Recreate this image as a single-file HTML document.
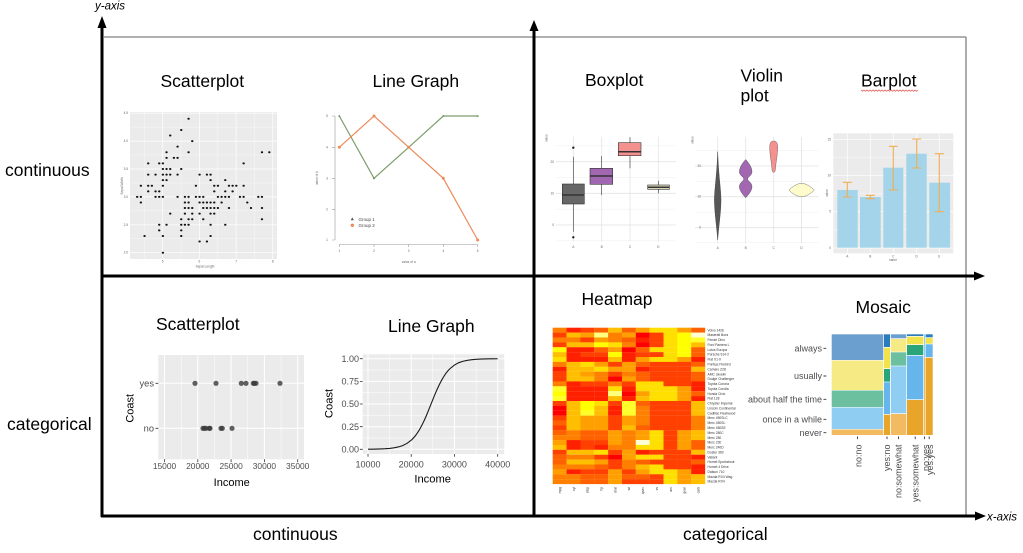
<!DOCTYPE html>
<html><head><meta charset="utf-8"><style>
html,body{margin:0;padding:0;background:#fff;}
svg{display:block;font-family:"Liberation Sans",sans-serif;}
.k0{fill:#ff0000}.k1{fill:#ff2000}.k2{fill:#ff4000}.k3{fill:#ff6000}.k4{fill:#ff8000}.k5{fill:#ff9f00}.k6{fill:#ffbf00}.k7{fill:#ffdf00}.k8{fill:#ffff00}.k9{fill:#ffff2a}.k10{fill:#ffff80}.k11{fill:#ffffd5}
.t{font-size:17.5px;fill:#000}
.tiny{font-size:3.2px;fill:#666}
.rl{font-size:3.3px;fill:#333}
.gt{fill:#4d4d4d}
</style></head><body>
<svg width="1023" height="553" viewBox="0 0 1023 553">
<defs><rect id="h" width="13.95" height="4.97"/></defs>
<rect width="1023" height="553" fill="#fff"/>

<!-- frame -->
<line x1="104" y1="37" x2="966" y2="37" stroke="#808080" stroke-width="1.3"/>
<line x1="966" y1="37" x2="966" y2="516" stroke="#808080" stroke-width="1.3"/>
<g stroke="#000" stroke-width="3">
<line x1="102" y1="517" x2="102" y2="27"/>
<line x1="534" y1="517" x2="534" y2="30"/>
<line x1="101" y1="276" x2="976" y2="276"/>
<line x1="101" y1="516" x2="977" y2="516"/>
</g>
<polygon points="102,16 97.5,28 106.5,28" fill="#000"/>
<polygon points="534,20 529.5,31 538.5,31" fill="#000"/>
<polygon points="985,276 974,271.5 974,280.5" fill="#000"/>
<polygon points="986,516 975,511.5 975,520.5" fill="#000"/>
<text x="95" y="9.5" font-size="11.5" font-style="italic" fill="#000">y-axis</text>
<text x="987" y="520.5" font-size="11.5" font-style="italic" fill="#000">x-axis</text>

<text class="t" x="5" y="176">continuous</text>
<text class="t" x="7" y="430">categorical</text>
<text class="t" x="253" y="540">continuous</text>
<text class="t" x="683" y="540">categorical</text>

<!-- titles -->
<text class="t" x="160.5" y="87">Scatterplot</text>
<text class="t" x="372.5" y="87">Line Graph</text>
<text class="t" x="585" y="86">Boxplot</text>
<text class="t" x="740.5" y="81.3">Violin</text>
<text class="t" x="740.5" y="101.5">plot</text>
<text class="t" x="861" y="86.5">Barplot</text>
<polyline points="861,90 862.5,91.3 864,90 865.5,91.3 867,90 868.5,91.3 870,90 871.5,91.3 873,90 874.5,91.3 876,90 877.5,91.3 879,90 880.5,91.3 882,90 883.5,91.3 885,90 886.5,91.3 888,90 889.5,91.3 891,90 892.5,91.3 894,90 895.5,91.3 897,90 898.5,91.3 900,90 901.5,91.3 903,90 904.5,91.3 906,90 907.5,91.3 909,90 910.5,91.3 912,90 913.5,91.3 915,90 916.5,91.3 918,90" fill="none" stroke="#e05050" stroke-width="0.7"/>
<text class="t" x="581.5" y="305">Heatmap</text>
<text class="t" x="855.5" y="313">Mosaic</text>
<text class="t" x="156" y="330">Scatterplot</text>
<text class="t" x="388" y="332">Line Graph</text>

<!-- top scatterplot (iris) -->
<rect x="130" y="112" width="147" height="147" fill="#ebebeb"/>
<g stroke="#fff" stroke-width="0.3">
<line x1="144.4" y1="112" x2="144.4" y2="259"/><line x1="181" y1="112" x2="181" y2="259"/><line x1="217.8" y1="112" x2="217.8" y2="259"/><line x1="254.5" y1="112" x2="254.5" y2="259"/>
<line x1="130" y1="238.7" x2="277" y2="238.7"/><line x1="130" y1="210.8" x2="277" y2="210.8"/><line x1="130" y1="183" x2="277" y2="183"/><line x1="130" y1="155" x2="277" y2="155"/><line x1="130" y1="127.2" x2="277" y2="127.2"/>
</g>
<g stroke="#fff" stroke-width="0.7">
<line x1="162.7" y1="112" x2="162.7" y2="259"/><line x1="199.4" y1="112" x2="199.4" y2="259"/><line x1="236.1" y1="112" x2="236.1" y2="259"/><line x1="272.8" y1="112" x2="272.8" y2="259"/>
<line x1="130" y1="252.7" x2="277" y2="252.7"/><line x1="130" y1="224.8" x2="277" y2="224.8"/><line x1="130" y1="196.9" x2="277" y2="196.9"/><line x1="130" y1="169" x2="277" y2="169"/><line x1="130" y1="141.1" x2="277" y2="141.1"/><line x1="130" y1="113.2" x2="277" y2="113.2"/>
</g>
<g transform="matrix(36.7,0,0,-55.8,-20.8,364.3)">
<path fill="none" stroke="#111" stroke-width="2" stroke-linecap="round" vector-effect="non-scaling-stroke" d="M5.1 3.5h.01M4.9 3h.01M4.7 3.2h.01M4.6 3.1h.01M5 3.6h.01M5.4 3.9h.01M4.6 3.4h.01M5 3.4h.01M4.4 2.9h.01M4.9 3.1h.01M5.4 3.7h.01M4.8 3.4h.01M4.8 3h.01M4.3 3h.01M5.8 4h.01M5.7 4.4h.01M5.7 3.8h.01M5.1 3.8h.01M5.4 3.4h.01M5.1 3.7h.01M4.6 3.6h.01M5.1 3.3h.01M5 3h.01M5.2 3.5h.01M5.2 3.4h.01M4.8 3.1h.01M5.2 4.1h.01M5.5 4.2h.01M5 3.2h.01M5.5 3.5h.01M4.9 3.6h.01M4.4 3h.01M5.1 3.4h.01M5 3.5h.01M4.5 2.3h.01M4.4 3.2h.01M4.6 3.2h.01M5.3 3.7h.01M5 3.3h.01M7 3.2h.01M6.4 3.2h.01M6.9 3.1h.01M5.5 2.3h.01M6.5 2.8h.01M5.7 2.8h.01M6.3 3.3h.01M4.9 2.4h.01M6.6 2.9h.01M5.2 2.7h.01M5 2h.01M5.9 3h.01M6 2.2h.01M6.1 2.9h.01M5.6 2.9h.01M6.7 3.1h.01M5.6 3h.01M5.8 2.7h.01M6.2 2.2h.01M5.6 2.5h.01M5.9 3.2h.01M6.1 2.8h.01M6.3 2.5h.01M6.4 2.9h.01M6.6 3h.01M6.8 2.8h.01M6.7 3h.01M6 2.9h.01M5.7 2.6h.01M5.5 2.4h.01M6 2.7h.01M5.4 3h.01M6 3.4h.01M6.3 2.3h.01M5.5 2.5h.01M5.5 2.6h.01M6.1 3h.01M5.8 2.6h.01M5 2.3h.01M5.6 2.7h.01M5.7 3h.01M5.7 2.9h.01M6.2 2.9h.01M5.1 2.5h.01M6.3 2.9h.01M7.1 3h.01M6.5 3h.01M7.6 3h.01M4.9 2.5h.01M7.3 2.9h.01M6.7 2.5h.01M7.2 3.6h.01M6.5 3.2h.01M6.4 2.7h.01M6.8 3h.01M5.7 2.5h.01M5.8 2.8h.01M7.7 3.8h.01M7.7 2.6h.01M6.9 3.2h.01M5.6 2.8h.01M7.7 2.8h.01M6.3 2.7h.01M6.7 3.3h.01M7.2 3.2h.01M6.2 2.8h.01M6.4 2.8h.01M7.2 3h.01M7.4 2.8h.01M7.9 3.8h.01M6.3 2.8h.01M6.1 2.6h.01M7.7 3h.01M6.3 3.4h.01M6.4 3.1h.01M6 3h.01M6.9 3.1h.01M6.8 3.2h.01M6.3 2.5h.01M6.2 3.4h.01M5.9 3h.01M5.8 2.7h.01"/>
</g>
<g class="tiny" text-anchor="end"><text x="128" y="253.7">2.0</text><text x="128" y="225.8">2.5</text><text x="128" y="197.9">3.0</text><text x="128" y="170">3.5</text><text x="128" y="142.1">4.0</text><text x="128" y="114.2">4.5</text></g>
<g class="tiny" text-anchor="middle"><text x="162.7" y="262.5">5</text><text x="199.4" y="262.5">6</text><text x="236.1" y="262.5">7</text><text x="272.8" y="262.5">8</text><text x="205" y="267.5">Sepal.Length</text><text transform="translate(123,186) rotate(-90)">Sepal.Width</text></g>

<!-- top line graph -->
<g stroke="#999" stroke-width="0.6" fill="none">
<polyline points="335,116 335,240"/><polyline points="339.3,244.5 477.7,244.5"/>
<path d="M332 116h3M332 147.3h3M332 178.3h3M332 209.3h3M332 240h3M339.3 244.5v2.5M374 244.5v2.5M408.7 244.5v2.5M443.3 244.5v2.5M477.7 244.5v2.5"/>
</g>
<polyline points="339.3,116 374,178.3 408.7,147.3 443.3,116 477.7,116" fill="none" stroke="#7c9e6c" stroke-width="1.2"/>
<polyline points="339.3,147.3 374,116 408.7,147.3 443.3,178.3 477.7,240" fill="none" stroke="#ec8a5c" stroke-width="1.2"/>
<g fill="#6f8f60"><path d="M339.3 114.6l1.3 2.2h-2.6z"/><path d="M374 176.9l1.3 2.2h-2.6z"/><path d="M408.7 145.9l1.3 2.2h-2.6z"/><path d="M443.3 114.6l1.3 2.2h-2.6z"/><path d="M477.7 114.6l1.3 2.2h-2.6z"/></g>
<g fill="#ec8a5c"><circle cx="339.3" cy="147.3" r="1.5"/><circle cx="374" cy="116" r="1.5"/><circle cx="408.7" cy="147.3" r="1.5"/><circle cx="443.3" cy="178.3" r="1.5"/><circle cx="477.7" cy="240" r="1.5"/></g>
<path d="M352.3 217.4l1.6 2.8h-3.2z" fill="#555"/>
<circle cx="352.3" cy="225.3" r="1.7" fill="#ec8a5c"/>
<text x="358.5" y="221" font-size="4.5" fill="#444">Group 1</text>
<text x="358.5" y="227" font-size="4.5" fill="#444">Group 2</text>
<g class="tiny" text-anchor="middle"><text x="339.3" y="252">1</text><text x="374" y="252">2</text><text x="408.7" y="252">3</text><text x="443.3" y="252">4</text><text x="477.7" y="252">5</text><text x="408.7" y="263">value of a</text><text transform="translate(318,178) rotate(-90)">value of b</text>
<text x="327" y="117">5</text><text x="327" y="148.3">4</text><text x="327" y="179.3">3</text><text x="327" y="210.3">2</text><text x="327" y="241">1</text></g>

<!-- boxplot -->
<g stroke="#ececec" stroke-width="0.45">
<line x1="555.7" y1="145.8" x2="675.7" y2="145.8"/><line x1="555.7" y1="177.5" x2="675.7" y2="177.5"/><line x1="555.7" y1="209.2" x2="675.7" y2="209.2"/><line x1="555.7" y1="240.8" x2="675.7" y2="240.8"/>
</g>
<g stroke="#e3e3e3" stroke-width="0.8">
<line x1="555.7" y1="161.7" x2="675.7" y2="161.7"/><line x1="555.7" y1="193.3" x2="675.7" y2="193.3"/><line x1="555.7" y1="225" x2="675.7" y2="225"/>
<line x1="573.3" y1="136.7" x2="573.3" y2="241.7"/><line x1="601.7" y1="136.7" x2="601.7" y2="241.7"/><line x1="630" y1="136.7" x2="630" y2="241.7"/><line x1="658.3" y1="136.7" x2="658.3" y2="241.7"/>
</g>
<g stroke="#333" stroke-width="0.6">
<line x1="573.3" y1="156.7" x2="573.3" y2="231.7"/>
<line x1="601.7" y1="156" x2="601.7" y2="195"/>
<line x1="630" y1="137.3" x2="630" y2="168.3"/>
<line x1="658.5" y1="180.7" x2="658.5" y2="193.3"/>
<rect x="562.3" y="184" width="22" height="20" fill="#676767"/>
<rect x="590" y="168.3" width="22.7" height="16" fill="#a167b0"/>
<rect x="618.3" y="142.7" width="22.7" height="13" fill="#f4908d"/>
<rect x="647.7" y="185" width="21.7" height="4.3" fill="#dcd7b6"/>
</g>
<g stroke="#333" stroke-width="1.5">
<line x1="562.3" y1="195" x2="584.3" y2="195"/><line x1="590" y1="176" x2="612.7" y2="176"/><line x1="618.3" y1="151.7" x2="641" y2="151.7"/><line x1="647.7" y1="187.3" x2="669.4" y2="187.3"/>
</g>
<circle cx="573.3" cy="147.7" r="1.2" fill="#222"/><circle cx="573.3" cy="237.3" r="1.2" fill="#222"/>
<g class="tiny" text-anchor="end"><text x="554" y="162.8">20</text><text x="554" y="194.4">10</text><text x="554" y="226.1">0</text></g>
<g class="tiny" text-anchor="middle"><text x="573.3" y="248">A</text><text x="601.7" y="248">B</text><text x="630" y="248">C</text><text x="658.3" y="248">D</text><text transform="translate(547.5,138) rotate(-90)">value</text></g>

<!-- violin -->
<g stroke="#ececec" stroke-width="0.45">
<line x1="695" y1="150.7" x2="818.3" y2="150.7"/><line x1="695" y1="181.3" x2="818.3" y2="181.3"/><line x1="695" y1="212.3" x2="818.3" y2="212.3"/><line x1="695" y1="242.7" x2="818.3" y2="242.7"/>
</g>
<g stroke="#e3e3e3" stroke-width="0.8">
<line x1="695" y1="166" x2="818.3" y2="166"/><line x1="695" y1="196.7" x2="818.3" y2="196.7"/><line x1="695" y1="227.7" x2="818.3" y2="227.7"/>
<line x1="717.7" y1="136.7" x2="717.7" y2="243.3"/><line x1="745.7" y1="136.7" x2="745.7" y2="243.3"/><line x1="773.7" y1="136.7" x2="773.7" y2="243.3"/><line x1="801.5" y1="136.7" x2="801.5" y2="243.3"/>
</g>
<path d="M717.7,151.7 C718.5,175 721,190 721,200 C721,212 718.5,228 717.7,240 C716.9,228 714.4,212 714.4,200 C714.4,190 716.9,175 717.7,151.7 Z" fill="#575757" stroke="#333" stroke-width="0.4"/>
<path d="M745.7,159.5 C748,162 752,167 752,171.7 C752,175.5 747.6,177 747.6,179 C747.6,181 752,182.5 752,186.7 C752,191 748,195 745.7,197.8 C743.4,195 739.4,191 739.4,186.7 C739.4,182.5 743.8,181 743.8,179 C743.8,177 739.4,175.5 739.4,171.7 C739.4,167 743.4,162 745.7,159.5 Z" fill="#a167b0" stroke="#444" stroke-width="0.4"/>
<path d="M773.7,141 C776.5,141 777.7,143 777.7,147 C777.7,155 776,162 775.6,167 C775.4,170 775.2,172.3 773.7,172.3 C772.2,172.3 772,170 771.8,167 C771.4,162 769.7,155 769.7,147 C769.7,143 770.9,141 773.7,141 Z" fill="#f4908d" stroke="#555" stroke-width="0.4"/>
<path d="M789,190 C792,187 797,183.3 801.6,183.3 C806,183.3 811,187 814.3,190 C811,193.5 806,196.7 801.6,196.7 C797,196.7 792,193.5 789,190 Z" fill="#fffccc" stroke="#777" stroke-width="0.5"/>
<g class="tiny" text-anchor="end"><text x="701" y="167">20</text><text x="701" y="197.7">10</text><text x="701" y="228.7">0</text></g>
<g class="tiny" text-anchor="middle"><text x="717.7" y="249">A</text><text x="745.7" y="249">B</text><text x="773.7" y="249">C</text><text x="801.5" y="249">D</text><text transform="translate(693.5,140) rotate(-90)">value</text></g>

<!-- barplot -->
<rect x="833.3" y="133.3" width="120" height="120" fill="#ebebeb"/>
<g stroke="#fff" stroke-width="0.35">
<line x1="833.3" y1="157.3" x2="953.3" y2="157.3"/><line x1="833.3" y1="193.5" x2="953.3" y2="193.5"/><line x1="833.3" y1="229.8" x2="953.3" y2="229.8"/>
</g>
<g stroke="#fff" stroke-width="0.7">
<line x1="833.3" y1="139.3" x2="953.3" y2="139.3"/><line x1="833.3" y1="175.3" x2="953.3" y2="175.3"/><line x1="833.3" y1="211.7" x2="953.3" y2="211.7"/><line x1="833.3" y1="248" x2="953.3" y2="248"/>
<line x1="847.3" y1="133.3" x2="847.3" y2="253.3"/><line x1="870.3" y1="133.3" x2="870.3" y2="253.3"/><line x1="893.3" y1="133.3" x2="893.3" y2="253.3"/><line x1="916.7" y1="133.3" x2="916.7" y2="253.3"/><line x1="939.3" y1="133.3" x2="939.3" y2="253.3"/>
</g>
<g fill="#a3d4ea">
<rect x="837.3" y="190" width="20.4" height="57.7"/><rect x="860" y="197" width="20.7" height="50.7"/><rect x="883.3" y="167.7" width="20" height="80"/><rect x="906.3" y="153.7" width="20.4" height="94"/><rect x="929.3" y="182.7" width="20.7" height="65"/>
</g>
<g stroke="#f2ae52" stroke-width="1.1" fill="none">
<path d="M847.3 182.3V197M842.8 182.3h9M842.8 197h9"/>
<path d="M870.3 195.3V198.7M865.8 195.3h9M865.8 198.7h9"/>
<path d="M893.3 146.3V190M888.8 146.3h9M888.8 190h9"/>
<path d="M916.7 139V168M912.2 139h9M912.2 168h9"/>
<path d="M939.3 153.7V211.7M934.8 153.7h9M934.8 211.7h9"/>
</g>
<g class="tiny" text-anchor="end"><text x="831" y="140.3">15</text><text x="831" y="176.3">10</text><text x="831" y="212.7">5</text><text x="831" y="249">0</text></g>
<g class="tiny" text-anchor="middle"><text x="847.3" y="257.5">A</text><text x="870.3" y="257.5">B</text><text x="893.3" y="257.5">C</text><text x="916.7" y="257.5">D</text><text x="939.3" y="257.5">E</text><text x="893" y="261">name</text><text transform="translate(828,193) rotate(-90)">value</text></g>

<!-- bottom scatterplot -->
<rect x="158.3" y="355" width="145.7" height="104.3" fill="#ebebeb"/>
<g stroke="#fff" stroke-width="0.5">
<line x1="181.2" y1="355" x2="181.2" y2="459.3"/><line x1="214.5" y1="355" x2="214.5" y2="459.3"/><line x1="247.8" y1="355" x2="247.8" y2="459.3"/><line x1="281.1" y1="355" x2="281.1" y2="459.3"/>
</g>
<g stroke="#fff" stroke-width="1">
<line x1="164.5" y1="355" x2="164.5" y2="459.3"/><line x1="197.8" y1="355" x2="197.8" y2="459.3"/><line x1="231.1" y1="355" x2="231.1" y2="459.3"/><line x1="264.4" y1="355" x2="264.4" y2="459.3"/><line x1="297.7" y1="355" x2="297.7" y2="459.3"/>
<line x1="158.3" y1="383.3" x2="304" y2="383.3"/><line x1="158.3" y1="428.3" x2="304" y2="428.3"/>
</g>
<g stroke="#333" stroke-width="0.8"><path d="M155.5 383.3h2.8M155.5 428.3h2.8M164.5 459.3v2.8M197.8 459.3v2.8M231.1 459.3v2.8M264.4 459.3v2.8M297.7 459.3v2.8"/></g>
<g fill="#3a3a3a" fill-opacity="0.8">
<circle cx="195" cy="383.3" r="2.6"/><circle cx="216" cy="383.3" r="2.6"/><circle cx="241.3" cy="383.3" r="2.6"/><circle cx="246" cy="383.3" r="2.6"/><circle cx="253.3" cy="383.3" r="2.6"/><circle cx="254.3" cy="383.3" r="2.6"/><circle cx="256" cy="383.3" r="2.6"/><circle cx="280" cy="383.3" r="2.6"/>
<circle cx="203" cy="428.3" r="2.6"/><circle cx="204.3" cy="428.3" r="2.6"/><circle cx="206" cy="428.3" r="2.6"/><circle cx="209.3" cy="428.3" r="2.6"/><circle cx="210" cy="428.3" r="2.6"/><circle cx="221" cy="428.3" r="2.6"/><circle cx="222.3" cy="428.3" r="2.6"/><circle cx="232" cy="428.3" r="2.6"/>
</g>
<g class="gt" font-size="9.3" text-anchor="end"><text x="154" y="386.6">yes</text><text x="154" y="431.6">no</text></g>
<g class="gt" font-size="8.4" text-anchor="middle"><text x="164.5" y="469">15000</text><text x="197.8" y="469">20000</text><text x="231.1" y="469">25000</text><text x="264.4" y="469">30000</text><text x="297.7" y="469">35000</text></g>
<text x="231.7" y="486" font-size="11" text-anchor="middle" fill="#000">Income</text>
<text transform="translate(133.3,408.3) rotate(-90)" font-size="11" text-anchor="middle" fill="#000">Coast</text>

<!-- bottom line graph -->
<rect x="362.7" y="354.3" width="141.6" height="99.7" fill="#ebebeb"/>
<g stroke="#fff" stroke-width="0.5">
<line x1="389.6" y1="354.3" x2="389.6" y2="454"/><line x1="432.8" y1="354.3" x2="432.8" y2="454"/><line x1="476.1" y1="354.3" x2="476.1" y2="454"/>
<line x1="362.7" y1="370" x2="504.3" y2="370"/><line x1="362.7" y1="392.7" x2="504.3" y2="392.7"/><line x1="362.7" y1="415.4" x2="504.3" y2="415.4"/><line x1="362.7" y1="438" x2="504.3" y2="438"/>
</g>
<g stroke="#fff" stroke-width="1">
<line x1="368" y1="354.3" x2="368" y2="454"/><line x1="411.2" y1="354.3" x2="411.2" y2="454"/><line x1="454.4" y1="354.3" x2="454.4" y2="454"/><line x1="497.7" y1="354.3" x2="497.7" y2="454"/>
<line x1="362.7" y1="358.7" x2="504.3" y2="358.7"/><line x1="362.7" y1="381.4" x2="504.3" y2="381.4"/><line x1="362.7" y1="404" x2="504.3" y2="404"/><line x1="362.7" y1="426.7" x2="504.3" y2="426.7"/><line x1="362.7" y1="449.3" x2="504.3" y2="449.3"/>
</g>
<g stroke="#333" stroke-width="0.8"><path d="M359.9 358.7h2.8M359.9 381.4h2.8M359.9 404h2.8M359.9 426.7h2.8M359.9 449.3h2.8M368 454v2.8M411.2 454v2.8M454.4 454v2.8M497.7 454v2.8"/></g>
<g transform="translate(324.77,449.3) scale(4.323,-90.6)">
<polyline fill="none" stroke="#1a1a1a" stroke-width="1.1" vector-effect="non-scaling-stroke" points="10,0.0009 11,0.0015 12,0.0024 13,0.0039 14,0.0063 15,0.010 16,0.0161 17,0.0258 18,0.0409 19,0.0644 20,0.100 20.5,0.124 21,0.152 21.5,0.186 22,0.224 22.5,0.269 23,0.318 23.5,0.372 24,0.430 24.5,0.490 25,0.549 25.5,0.608 26,0.663 26.5,0.714 27,0.760 27.5,0.801 28,0.837 28.5,0.867 29,0.892 30,0.930 31,0.956 32,0.972 33,0.982 34,0.989 35,0.9932 36,0.9958 37,0.9974 38,0.9984 39,0.999 40,0.9994"/>
</g>
<g class="gt" font-size="9" text-anchor="end"><text x="359" y="361.8">1.00</text><text x="359" y="384.5">0.75</text><text x="359" y="407.1">0.50</text><text x="359" y="429.8">0.25</text><text x="359" y="452.4">0.00</text></g>
<g class="gt" font-size="9" text-anchor="middle"><text x="368" y="467.5">10000</text><text x="411.2" y="467.5">20000</text><text x="454.4" y="467.5">30000</text><text x="497.7" y="467.5">40000</text></g>
<text x="432.7" y="482.3" font-size="11.2" text-anchor="middle" fill="#000">Income</text>
<text transform="translate(332.5,403.5) rotate(-90)" font-size="11.2" text-anchor="middle" fill="#000">Coast</text>

<!-- heatmap -->
<g transform="translate(0,327.7)"><use href="#h" x="552.7" class="k4"/><use href="#h" x="566.55" class="k1"/><use href="#h" x="580.4" class="k2"/><use href="#h" x="594.25" class="k3"/><use href="#h" x="608.1" class="k6"/><use href="#h" x="621.95" class="k3"/><use href="#h" x="635.8" class="k5"/><use href="#h" x="649.65" class="k7"/><use href="#h" x="663.5" class="k7"/><use href="#h" x="677.35" class="k5"/><use href="#h" x="691.2" class="k3"/></g>
<g transform="translate(0,332.59)"><use href="#h" x="552.7" class="k2"/><use href="#h" x="566.55" class="k6"/><use href="#h" x="580.4" class="k5"/><use href="#h" x="594.25" class="k10"/><use href="#h" x="608.1" class="k4"/><use href="#h" x="621.95" class="k5"/><use href="#h" x="635.8" class="k0"/><use href="#h" x="649.65" class="k2"/><use href="#h" x="663.5" class="k7"/><use href="#h" x="677.35" class="k8"/><use href="#h" x="691.2" class="k11"/></g>
<g transform="translate(0,337.47)"><use href="#h" x="552.7" class="k4"/><use href="#h" x="566.55" class="k4"/><use href="#h" x="580.4" class="k2"/><use href="#h" x="594.25" class="k5"/><use href="#h" x="608.1" class="k4"/><use href="#h" x="621.95" class="k3"/><use href="#h" x="635.8" class="k1"/><use href="#h" x="649.65" class="k2"/><use href="#h" x="663.5" class="k7"/><use href="#h" x="677.35" class="k8"/><use href="#h" x="691.2" class="k9"/></g>
<g transform="translate(0,342.36)"><use href="#h" x="552.7" class="k2"/><use href="#h" x="566.55" class="k6"/><use href="#h" x="580.4" class="k6"/><use href="#h" x="594.25" class="k8"/><use href="#h" x="608.1" class="k7"/><use href="#h" x="621.95" class="k4"/><use href="#h" x="635.8" class="k0"/><use href="#h" x="649.65" class="k2"/><use href="#h" x="663.5" class="k7"/><use href="#h" x="677.35" class="k8"/><use href="#h" x="691.2" class="k6"/></g>
<g transform="translate(0,347.24)"><use href="#h" x="552.7" class="k8"/><use href="#h" x="566.55" class="k1"/><use href="#h" x="580.4" class="k1"/><use href="#h" x="594.25" class="k3"/><use href="#h" x="608.1" class="k5"/><use href="#h" x="621.95" class="k0"/><use href="#h" x="635.8" class="k3"/><use href="#h" x="649.65" class="k7"/><use href="#h" x="663.5" class="k7"/><use href="#h" x="677.35" class="k8"/><use href="#h" x="691.2" class="k3"/></g>
<g transform="translate(0,352.13)"><use href="#h" x="552.7" class="k6"/><use href="#h" x="566.55" class="k1"/><use href="#h" x="580.4" class="k2"/><use href="#h" x="594.25" class="k2"/><use href="#h" x="608.1" class="k8"/><use href="#h" x="621.95" class="k1"/><use href="#h" x="635.8" class="k2"/><use href="#h" x="649.65" class="k2"/><use href="#h" x="663.5" class="k7"/><use href="#h" x="677.35" class="k8"/><use href="#h" x="691.2" class="k3"/></g>
<g transform="translate(0,357.01)"><use href="#h" x="552.7" class="k7"/><use href="#h" x="566.55" class="k1"/><use href="#h" x="580.4" class="k1"/><use href="#h" x="594.25" class="k1"/><use href="#h" x="608.1" class="k6"/><use href="#h" x="621.95" class="k1"/><use href="#h" x="635.8" class="k5"/><use href="#h" x="649.65" class="k7"/><use href="#h" x="663.5" class="k7"/><use href="#h" x="677.35" class="k5"/><use href="#h" x="691.2" class="k1"/></g>
<g transform="translate(0,361.9)"><use href="#h" x="552.7" class="k4"/><use href="#h" x="566.55" class="k6"/><use href="#h" x="580.4" class="k7"/><use href="#h" x="594.25" class="k5"/><use href="#h" x="608.1" class="k2"/><use href="#h" x="621.95" class="k5"/><use href="#h" x="635.8" class="k3"/><use href="#h" x="649.65" class="k2"/><use href="#h" x="663.5" class="k2"/><use href="#h" x="677.35" class="k2"/><use href="#h" x="691.2" class="k3"/></g>
<g transform="translate(0,366.78)"><use href="#h" x="552.7" class="k1"/><use href="#h" x="566.55" class="k6"/><use href="#h" x="580.4" class="k6"/><use href="#h" x="594.25" class="k7"/><use href="#h" x="608.1" class="k5"/><use href="#h" x="621.95" class="k5"/><use href="#h" x="635.8" class="k1"/><use href="#h" x="649.65" class="k2"/><use href="#h" x="663.5" class="k2"/><use href="#h" x="677.35" class="k2"/><use href="#h" x="691.2" class="k6"/></g>
<g transform="translate(0,371.67)"><use href="#h" x="552.7" class="k2"/><use href="#h" x="566.55" class="k6"/><use href="#h" x="580.4" class="k5"/><use href="#h" x="594.25" class="k4"/><use href="#h" x="608.1" class="k2"/><use href="#h" x="621.95" class="k4"/><use href="#h" x="635.8" class="k3"/><use href="#h" x="649.65" class="k2"/><use href="#h" x="663.5" class="k2"/><use href="#h" x="677.35" class="k2"/><use href="#h" x="691.2" class="k3"/></g>
<g transform="translate(0,376.55)"><use href="#h" x="552.7" class="k2"/><use href="#h" x="566.55" class="k6"/><use href="#h" x="580.4" class="k6"/><use href="#h" x="594.25" class="k4"/><use href="#h" x="608.1" class="k0"/><use href="#h" x="621.95" class="k5"/><use href="#h" x="635.8" class="k3"/><use href="#h" x="649.65" class="k2"/><use href="#h" x="663.5" class="k2"/><use href="#h" x="677.35" class="k2"/><use href="#h" x="691.2" class="k3"/></g>
<g transform="translate(0,381.44)"><use href="#h" x="552.7" class="k4"/><use href="#h" x="566.55" class="k1"/><use href="#h" x="580.4" class="k2"/><use href="#h" x="594.25" class="k2"/><use href="#h" x="608.1" class="k4"/><use href="#h" x="621.95" class="k2"/><use href="#h" x="635.8" class="k7"/><use href="#h" x="649.65" class="k7"/><use href="#h" x="663.5" class="k2"/><use href="#h" x="677.35" class="k2"/><use href="#h" x="691.2" class="k1"/></g>
<g transform="translate(0,386.32)"><use href="#h" x="552.7" class="k9"/><use href="#h" x="566.55" class="k1"/><use href="#h" x="580.4" class="k1"/><use href="#h" x="594.25" class="k1"/><use href="#h" x="608.1" class="k7"/><use href="#h" x="621.95" class="k1"/><use href="#h" x="635.8" class="k7"/><use href="#h" x="649.65" class="k7"/><use href="#h" x="663.5" class="k7"/><use href="#h" x="677.35" class="k5"/><use href="#h" x="691.2" class="k1"/></g>
<g transform="translate(0,391.21)"><use href="#h" x="552.7" class="k8"/><use href="#h" x="566.55" class="k1"/><use href="#h" x="580.4" class="k1"/><use href="#h" x="594.25" class="k1"/><use href="#h" x="608.1" class="k10"/><use href="#h" x="621.95" class="k0"/><use href="#h" x="635.8" class="k5"/><use href="#h" x="649.65" class="k7"/><use href="#h" x="663.5" class="k7"/><use href="#h" x="677.35" class="k5"/><use href="#h" x="691.2" class="k3"/></g>
<g transform="translate(0,396.09)"><use href="#h" x="552.7" class="k9"/><use href="#h" x="566.55" class="k1"/><use href="#h" x="580.4" class="k1"/><use href="#h" x="594.25" class="k1"/><use href="#h" x="608.1" class="k6"/><use href="#h" x="621.95" class="k1"/><use href="#h" x="635.8" class="k6"/><use href="#h" x="649.65" class="k7"/><use href="#h" x="663.5" class="k7"/><use href="#h" x="677.35" class="k5"/><use href="#h" x="691.2" class="k1"/></g>
<g transform="translate(0,400.98)"><use href="#h" x="552.7" class="k2"/><use href="#h" x="566.55" class="k6"/><use href="#h" x="580.4" class="k8"/><use href="#h" x="594.25" class="k7"/><use href="#h" x="608.1" class="k2"/><use href="#h" x="621.95" class="k9"/><use href="#h" x="635.8" class="k3"/><use href="#h" x="649.65" class="k2"/><use href="#h" x="663.5" class="k2"/><use href="#h" x="677.35" class="k2"/><use href="#h" x="691.2" class="k6"/></g>
<g transform="translate(0,405.86)"><use href="#h" x="552.7" class="k0"/><use href="#h" x="566.55" class="k6"/><use href="#h" x="580.4" class="k8"/><use href="#h" x="594.25" class="k6"/><use href="#h" x="608.1" class="k1"/><use href="#h" x="621.95" class="k9"/><use href="#h" x="635.8" class="k4"/><use href="#h" x="649.65" class="k2"/><use href="#h" x="663.5" class="k2"/><use href="#h" x="677.35" class="k2"/><use href="#h" x="691.2" class="k6"/></g>
<g transform="translate(0,410.75)"><use href="#h" x="552.7" class="k0"/><use href="#h" x="566.55" class="k6"/><use href="#h" x="580.4" class="k9"/><use href="#h" x="594.25" class="k6"/><use href="#h" x="608.1" class="k1"/><use href="#h" x="621.95" class="k9"/><use href="#h" x="635.8" class="k4"/><use href="#h" x="649.65" class="k2"/><use href="#h" x="663.5" class="k2"/><use href="#h" x="677.35" class="k2"/><use href="#h" x="691.2" class="k6"/></g>
<g transform="translate(0,415.63)"><use href="#h" x="552.7" class="k2"/><use href="#h" x="566.55" class="k6"/><use href="#h" x="580.4" class="k5"/><use href="#h" x="594.25" class="k5"/><use href="#h" x="608.1" class="k2"/><use href="#h" x="621.95" class="k5"/><use href="#h" x="635.8" class="k4"/><use href="#h" x="649.65" class="k2"/><use href="#h" x="663.5" class="k2"/><use href="#h" x="677.35" class="k2"/><use href="#h" x="691.2" class="k4"/></g>
<g transform="translate(0,420.52)"><use href="#h" x="552.7" class="k3"/><use href="#h" x="566.55" class="k6"/><use href="#h" x="580.4" class="k5"/><use href="#h" x="594.25" class="k5"/><use href="#h" x="608.1" class="k2"/><use href="#h" x="621.95" class="k5"/><use href="#h" x="635.8" class="k4"/><use href="#h" x="649.65" class="k2"/><use href="#h" x="663.5" class="k2"/><use href="#h" x="677.35" class="k2"/><use href="#h" x="691.2" class="k4"/></g>
<g transform="translate(0,425.4)"><use href="#h" x="552.7" class="k2"/><use href="#h" x="566.55" class="k6"/><use href="#h" x="580.4" class="k5"/><use href="#h" x="594.25" class="k5"/><use href="#h" x="608.1" class="k2"/><use href="#h" x="621.95" class="k6"/><use href="#h" x="635.8" class="k3"/><use href="#h" x="649.65" class="k2"/><use href="#h" x="663.5" class="k2"/><use href="#h" x="677.35" class="k2"/><use href="#h" x="691.2" class="k4"/></g>
<g transform="translate(0,430.29)"><use href="#h" x="552.7" class="k3"/><use href="#h" x="566.55" class="k4"/><use href="#h" x="580.4" class="k3"/><use href="#h" x="594.25" class="k3"/><use href="#h" x="608.1" class="k5"/><use href="#h" x="621.95" class="k4"/><use href="#h" x="635.8" class="k5"/><use href="#h" x="649.65" class="k7"/><use href="#h" x="663.5" class="k2"/><use href="#h" x="677.35" class="k5"/><use href="#h" x="691.2" class="k6"/></g>
<g transform="translate(0,435.17)"><use href="#h" x="552.7" class="k4"/><use href="#h" x="566.55" class="k4"/><use href="#h" x="580.4" class="k3"/><use href="#h" x="594.25" class="k3"/><use href="#h" x="608.1" class="k5"/><use href="#h" x="621.95" class="k4"/><use href="#h" x="635.8" class="k5"/><use href="#h" x="649.65" class="k7"/><use href="#h" x="663.5" class="k2"/><use href="#h" x="677.35" class="k5"/><use href="#h" x="691.2" class="k6"/></g>
<g transform="translate(0,440.06)"><use href="#h" x="552.7" class="k5"/><use href="#h" x="566.55" class="k1"/><use href="#h" x="580.4" class="k2"/><use href="#h" x="594.25" class="k2"/><use href="#h" x="608.1" class="k5"/><use href="#h" x="621.95" class="k4"/><use href="#h" x="635.8" class="k11"/><use href="#h" x="649.65" class="k7"/><use href="#h" x="663.5" class="k2"/><use href="#h" x="677.35" class="k5"/><use href="#h" x="691.2" class="k3"/></g>
<g transform="translate(0,444.94)"><use href="#h" x="552.7" class="k6"/><use href="#h" x="566.55" class="k1"/><use href="#h" x="580.4" class="k2"/><use href="#h" x="594.25" class="k1"/><use href="#h" x="608.1" class="k4"/><use href="#h" x="621.95" class="k4"/><use href="#h" x="635.8" class="k7"/><use href="#h" x="649.65" class="k7"/><use href="#h" x="663.5" class="k2"/><use href="#h" x="677.35" class="k5"/><use href="#h" x="691.2" class="k3"/></g>
<g transform="translate(0,449.83)"><use href="#h" x="552.7" class="k2"/><use href="#h" x="566.55" class="k6"/><use href="#h" x="580.4" class="k6"/><use href="#h" x="594.25" class="k7"/><use href="#h" x="608.1" class="k2"/><use href="#h" x="621.95" class="k5"/><use href="#h" x="635.8" class="k1"/><use href="#h" x="649.65" class="k2"/><use href="#h" x="663.5" class="k2"/><use href="#h" x="677.35" class="k2"/><use href="#h" x="691.2" class="k6"/></g>
<g transform="translate(0,454.71)"><use href="#h" x="552.7" class="k3"/><use href="#h" x="566.55" class="k4"/><use href="#h" x="580.4" class="k4"/><use href="#h" x="594.25" class="k2"/><use href="#h" x="608.1" class="k0"/><use href="#h" x="621.95" class="k5"/><use href="#h" x="635.8" class="k7"/><use href="#h" x="649.65" class="k7"/><use href="#h" x="663.5" class="k2"/><use href="#h" x="677.35" class="k2"/><use href="#h" x="691.2" class="k1"/></g>
<g transform="translate(0,459.6)"><use href="#h" x="552.7" class="k3"/><use href="#h" x="566.55" class="k6"/><use href="#h" x="580.4" class="k6"/><use href="#h" x="594.25" class="k5"/><use href="#h" x="608.1" class="k2"/><use href="#h" x="621.95" class="k4"/><use href="#h" x="635.8" class="k3"/><use href="#h" x="649.65" class="k2"/><use href="#h" x="663.5" class="k2"/><use href="#h" x="677.35" class="k2"/><use href="#h" x="691.2" class="k3"/></g>
<g transform="translate(0,464.48)"><use href="#h" x="552.7" class="k4"/><use href="#h" x="566.55" class="k4"/><use href="#h" x="580.4" class="k4"/><use href="#h" x="594.25" class="k3"/><use href="#h" x="608.1" class="k2"/><use href="#h" x="621.95" class="k4"/><use href="#h" x="635.8" class="k6"/><use href="#h" x="649.65" class="k7"/><use href="#h" x="663.5" class="k2"/><use href="#h" x="677.35" class="k2"/><use href="#h" x="691.2" class="k1"/></g>
<g transform="translate(0,469.37)"><use href="#h" x="552.7" class="k5"/><use href="#h" x="566.55" class="k1"/><use href="#h" x="580.4" class="k2"/><use href="#h" x="594.25" class="k2"/><use href="#h" x="608.1" class="k5"/><use href="#h" x="621.95" class="k2"/><use href="#h" x="635.8" class="k5"/><use href="#h" x="649.65" class="k7"/><use href="#h" x="663.5" class="k7"/><use href="#h" x="677.35" class="k5"/><use href="#h" x="691.2" class="k1"/></g>
<g transform="translate(0,474.25)"><use href="#h" x="552.7" class="k4"/><use href="#h" x="566.55" class="k4"/><use href="#h" x="580.4" class="k3"/><use href="#h" x="594.25" class="k3"/><use href="#h" x="608.1" class="k5"/><use href="#h" x="621.95" class="k3"/><use href="#h" x="635.8" class="k3"/><use href="#h" x="649.65" class="k2"/><use href="#h" x="663.5" class="k7"/><use href="#h" x="677.35" class="k5"/><use href="#h" x="691.2" class="k6"/></g>
<g transform="translate(0,479.14)"><use href="#h" x="552.7" class="k4"/><use href="#h" x="566.55" class="k4"/><use href="#h" x="580.4" class="k3"/><use href="#h" x="594.25" class="k3"/><use href="#h" x="608.1" class="k5"/><use href="#h" x="621.95" class="k2"/><use href="#h" x="635.8" class="k2"/><use href="#h" x="649.65" class="k2"/><use href="#h" x="663.5" class="k7"/><use href="#h" x="677.35" class="k5"/><use href="#h" x="691.2" class="k6"/></g>
<g class="rl">
<text x="707.5" y="331.3">Volvo 142E</text><text x="707.5" y="336.2">Maserati Bora</text><text x="707.5" y="341.1">Ferrari Dino</text><text x="707.5" y="346">Ford Pantera L</text><text x="707.5" y="350.8">Lotus Europa</text><text x="707.5" y="355.7">Porsche 914-2</text><text x="707.5" y="360.6">Fiat X1-9</text><text x="707.5" y="365.5">Pontiac Firebird</text><text x="707.5" y="370.4">Camaro Z28</text><text x="707.5" y="375.3">AMC Javelin</text><text x="707.5" y="380.2">Dodge Challenger</text><text x="707.5" y="385">Toyota Corona</text><text x="707.5" y="389.9">Toyota Corolla</text><text x="707.5" y="394.8">Honda Civic</text><text x="707.5" y="399.7">Fiat 128</text><text x="707.5" y="404.6">Chrysler Imperial</text><text x="707.5" y="409.5">Lincoln Continental</text><text x="707.5" y="414.4">Cadillac Fleetwood</text><text x="707.5" y="419.2">Merc 450SLC</text><text x="707.5" y="424.1">Merc 450SL</text><text x="707.5" y="429">Merc 450SE</text><text x="707.5" y="433.9">Merc 280C</text><text x="707.5" y="438.8">Merc 280</text><text x="707.5" y="443.7">Merc 230</text><text x="707.5" y="448.5">Merc 240D</text><text x="707.5" y="453.4">Duster 360</text><text x="707.5" y="458.3">Valiant</text><text x="707.5" y="463.2">Hornet Sportabout</text><text x="707.5" y="468.1">Hornet 4 Drive</text><text x="707.5" y="473">Datsun 710</text><text x="707.5" y="477.9">Mazda RX4 Wag</text><text x="707.5" y="482.7">Mazda RX4</text>
</g>
<g class="rl" font-size="3.8" text-anchor="end">
<text transform="translate(561,487) rotate(-90)">mpg</text><text transform="translate(574.8,487) rotate(-90)">cyl</text><text transform="translate(588.7,487) rotate(-90)">disp</text><text transform="translate(602.5,487) rotate(-90)">hp</text><text transform="translate(616.4,487) rotate(-90)">drat</text><text transform="translate(630.2,487) rotate(-90)">wt</text><text transform="translate(644.1,487) rotate(-90)">qsec</text><text transform="translate(657.9,487) rotate(-90)">vs</text><text transform="translate(671.8,487) rotate(-90)">am</text><text transform="translate(685.6,487) rotate(-90)">gear</text><text transform="translate(699.5,487) rotate(-90)">carb</text>
</g>

<!-- mosaic -->
<g>
<rect x="831.7" y="334.3" width="51.6" height="25.7" fill="#6b9fcf"/>
<rect x="831.7" y="360.5" width="51.6" height="29.5" fill="#f6ea84"/>
<rect x="831.7" y="390.5" width="51.6" height="16.5" fill="#6cc0a0"/>
<rect x="831.7" y="407.5" width="51.6" height="21.5" fill="#8fcdf2"/>
<rect x="831.7" y="429.5" width="51.6" height="5.5" fill="#f2bb62"/>
<rect x="884" y="334.3" width="6" height="12.7" fill="#2b7bbf"/>
<rect x="884" y="347.7" width="6" height="20.6" fill="#f2e34a"/>
<rect x="884" y="369" width="6" height="12.7" fill="#2aa57a"/>
<rect x="884" y="382.3" width="6" height="31.7" fill="#66b6ec"/>
<rect x="884" y="414.7" width="6" height="20.3" fill="#e9a42a"/>
<rect x="890.8" y="334.3" width="15.5" height="4" fill="#6b9fcf"/>
<rect x="890.8" y="339" width="15.5" height="12.7" fill="#f6ea84"/>
<rect x="890.8" y="352.3" width="15.5" height="13.4" fill="#6cc0a0"/>
<rect x="890.8" y="366.3" width="15.5" height="47" fill="#8fcdf2"/>
<rect x="890.8" y="414" width="15.5" height="21" fill="#f2bb62"/>
<rect x="907" y="334.3" width="16.3" height="1.7" fill="#2b7bbf"/>
<rect x="907" y="336.7" width="16.3" height="7.6" fill="#f2e34a"/>
<rect x="907" y="345" width="16.3" height="10" fill="#2aa57a"/>
<rect x="907" y="355.7" width="16.3" height="43.6" fill="#66b6ec"/>
<rect x="907" y="400" width="16.3" height="35" fill="#e9a42a"/>
<rect x="924" y="334.3" width="1.2" height="22.7" fill="#8fcdf2"/>
<rect x="924" y="357.5" width="1.2" height="77.5" fill="#f2bb62"/>
<rect x="925.7" y="334.3" width="7" height="3" fill="#2b7bbf"/>
<rect x="925.7" y="338" width="7" height="5.7" fill="#f2e34a"/>
<rect x="925.7" y="344.3" width="7" height="12.7" fill="#66b6ec"/>
<rect x="925.7" y="357.7" width="7" height="77.3" fill="#e9a42a"/>
</g>
<g stroke="#333" stroke-width="0.9"><path d="M823.5 348.3h2.8M823.5 376h2.8M823.5 399.3h2.8M823.5 419.3h2.8M823.5 432.7h2.8M857.5 436.5v2.6M887 436.5v2.6M898.5 436.5v2.6M915.2 436.5v2.6M924.6 436.5v2.6M929.2 436.5v2.6"/></g>
<g class="gt" font-size="9" text-anchor="end">
<text x="822" y="351.4">always</text><text x="822" y="379.1">usually</text><text x="822" y="402.4">about half the time</text><text x="822" y="422.4">once in a while</text><text x="822" y="435.8">never</text>
<text transform="translate(861.5,444.5) rotate(-90)">no:no</text>
<text transform="translate(890,444.5) rotate(-90)">yes:no</text>
<text transform="translate(901.6,444.5) rotate(-90)">no:somewhat</text>
<text transform="translate(918.3,444.5) rotate(-90)">yes:somewhat</text>
<text transform="translate(929,444.5) rotate(-90)">no:yes</text>
<text transform="translate(933,444.5) rotate(-90)">yes:yes</text>
</g>
</svg>
</body></html>
